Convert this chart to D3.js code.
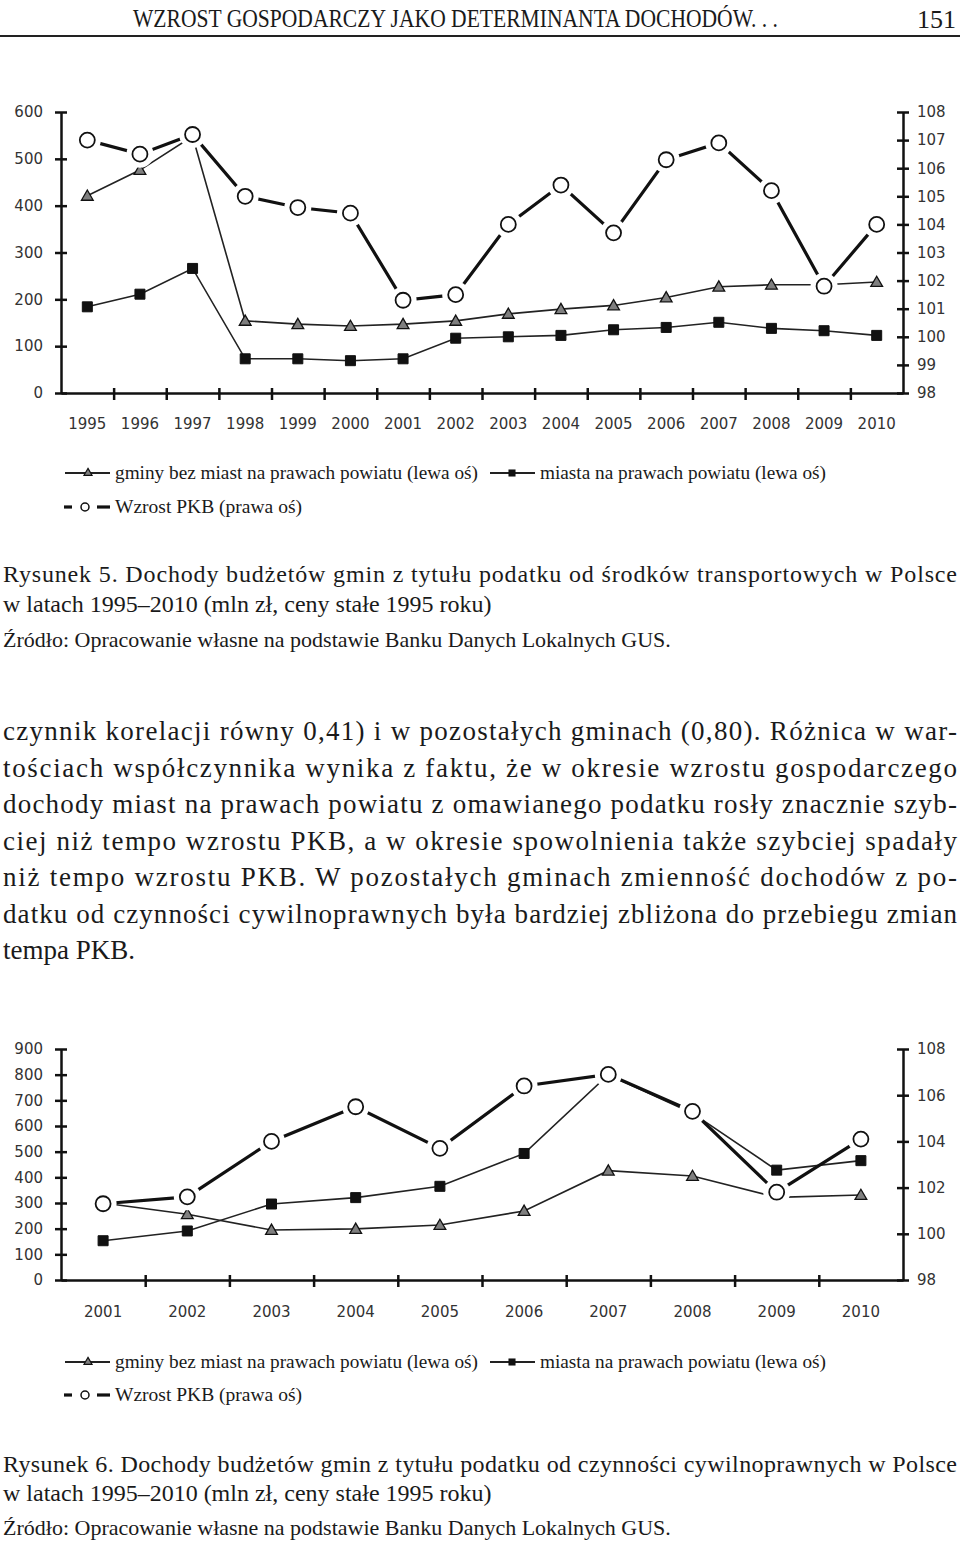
<!DOCTYPE html>
<html><head><meta charset="utf-8">
<script src="https://cdn.jsdelivr.net/npm/d3@7"></script>
<style>body{margin:0;background:#fff}svg{display:block}</style></head>
<body>
<script>
// ---------- DATA ----------
const years1 = ["1995","1996","1997","1998","1999","2000","2001","2002","2003","2004","2005","2006","2007","2008","2009","2010"];
const gminy1 = [421,476,548,154,147,143,147,154,169,179,187,204,227,231,231,237];
const miasta1 = [184,211,266,73,73,69,73,117,120,123,135,140,151,138,133,123];
const pkb1 = [107.0,106.5,107.2,105.0,104.6,104.4,101.3,101.5,104.0,105.4,103.7,106.3,106.9,105.2,101.8,104.0];
const leftTicks1 = [0,100,200,300,400,500,600];
const rightTicks1 = [98,99,100,101,102,103,104,105,106,107,108];

const years2 = ["2001","2002","2003","2004","2005","2006","2007","2008","2009","2010"];
const gminy2 = [300,256,195,199,214,269,426,405,322,331];
const miasta2 = [153,191,296,321,365,493,800,650,428,465];
const pkb2 = [101.3,101.6,104.0,105.5,103.7,106.4,106.9,105.3,101.8,104.1];
const leftTicks2 = [0,100,200,300,400,500,600,700,800,900];
const rightTicks2 = [98,100,102,104,106,108];

const legendLabels = ["gminy bez miast na prawach powiatu (lewa oś)","miasta na prawach powiatu (lewa oś)","Wzrost PKB (prawa oś)"];

const headerText = "WZROST GOSPODARCZY JAKO DETERMINANTA DOCHODÓW. . .";
const pageNumber = "151";
const caption1 = ["Rysunek 5. Dochody budżetów gmin z tytułu podatku od środków transportowych w Polsce","w latach 1995–2010 (mln zł, ceny stałe 1995 roku)"];
const caption2 = ["Rysunek 6. Dochody budżetów gmin z tytułu podatku od czynności cywilnoprawnych w Polsce","w latach 1995–2010 (mln zł, ceny stałe 1995 roku)"];
const sourceText = "Źródło: Opracowanie własne na podstawie Banku Danych Lokalnych GUS.";
const bodyLines = [
 "czynnik korelacji równy 0,41) i w pozostałych gminach (0,80). Różnica w war-",
 "tościach współczynnika wynika z faktu, że w okresie wzrostu gospodarczego",
 "dochody miast na prawach powiatu z omawianego podatku rosły znacznie szyb-",
 "ciej niż tempo wzrostu PKB, a w okresie spowolnienia także szybciej spadały",
 "niż tempo wzrostu PKB. W pozostałych gminach zmienność dochodów z po-",
 "datku od czynności cywilnoprawnych była bardziej zbliżona do przebiegu zmian",
 "tempa PKB."
];

// ---------- SVG ----------
const W = 960, H = 1541;
const svg = d3.select("body").append("svg").attr("width", W).attr("height", H)
  .style("background", "#fff");

const SERIF = "'Liberation Serif','Times New Roman',serif";
const SANS = "'DejaVu Sans',Verdana,sans-serif";

function txt(x, y, s, o = {}) {
  const t = svg.append("text").attr("x", x).attr("y", y).text(s)
    .attr("font-family", o.family || SERIF)
    .attr("font-size", o.size || 20)
    .attr("fill", o.fill || "#1a1a1a")
    .attr("text-anchor", o.anchor || "start");
  if (o.len) t.attr("textLength", o.len).attr("lengthAdjust", o.adjust || "spacing");
  return t;
}

// header
txt(133, 27, headerText, {size: 25, len: 645, adjust: "spacingAndGlyphs"});
txt(956, 28, pageNumber, {size: 26, anchor: "end"});
svg.append("line").attr("x1", 0).attr("x2", W).attr("y1", 36).attr("y2", 36)
  .attr("stroke", "#222").attr("stroke-width", 2);

// ---------- CHART ----------
function drawChart(c) {
  const g = svg.append("g");
  const n = c.years.length;
  const xb = d3.scaleBand().domain(c.years).range([c.x0, c.x1]);
  const cx = d => xb(d) + xb.bandwidth() / 2;
  const xi = d3.scaleLinear().domain([0, n]).range([c.x0, c.x1]);
  const yL = d3.scaleLinear().domain([0, c.leftMax]).range([c.yB, c.yT]);
  const yR = d3.scaleLinear().domain([98, 108]).range([c.yB, c.yT]);

  // left axis
  const la = g.append("g").attr("transform", `translate(${c.x0},0)`)
    .call(d3.axisLeft(yL).tickValues(c.leftTicks).tickSize(6).tickSizeOuter(0));
  la.select(".domain").attr("stroke", "#111").attr("stroke-width", 2.5);
  la.selectAll(".tick line").attr("x1", 6).attr("x2", -6).attr("stroke", "#111").attr("stroke-width", 2.5);
  la.selectAll(".tick text").attr("x", -18).attr("font-family", SANS).attr("font-size", 15).attr("fill", "#333");

  // right axis
  const ra = g.append("g").attr("transform", `translate(${c.x1},0)`)
    .call(d3.axisRight(yR).tickValues(c.rightTicks).tickSize(6).tickSizeOuter(0));
  ra.select(".domain").attr("stroke", "#111").attr("stroke-width", 2.5);
  ra.selectAll(".tick line").attr("x1", -6).attr("x2", 6).attr("stroke", "#111").attr("stroke-width", 2.5);
  ra.selectAll(".tick text").attr("x", 14).attr("font-family", SANS).attr("font-size", 15).attr("fill", "#333");

  // bottom axis ticks at band boundaries
  const ba = g.append("g").attr("transform", `translate(0,${c.yB})`)
    .call(d3.axisBottom(xi).tickValues(d3.range(1, n)).tickSize(7).tickSizeOuter(0).tickFormat(""));
  ba.select(".domain").attr("stroke", "#111").attr("stroke-width", 2.5);
  ba.selectAll(".tick line").attr("y1", -5).attr("y2", 7).attr("stroke", "#111").attr("stroke-width", 2.5);

  // category labels
  const lab = g.append("g").attr("transform", `translate(0,${c.labelY})`)
    .call(d3.axisBottom(xb).tickSize(0).tickPadding(0));
  lab.select(".domain").remove();
  lab.selectAll(".tick text").attr("font-family", SANS).attr("font-size", 15).attr("fill", "#333").attr("dy", "0");

  const lineL = d3.line().x((d, i) => cx(c.years[i])).y(d => yL(d));
  const lineR = d3.line().x((d, i) => cx(c.years[i])).y(d => yR(d));

  g.append("path").attr("d", lineL(c.gminy)).attr("fill", "none").attr("stroke", "#222").attr("stroke-width", 1.6);
  g.append("path").attr("d", lineL(c.miasta)).attr("fill", "none").attr("stroke", "#222").attr("stroke-width", 1.6);
  g.append("path").attr("d", lineR(c.pkb)).attr("fill", "none").attr("stroke", "#111").attr("stroke-width", 3.2);

  // triangles
  g.selectAll(null).data(c.gminy).enter().append("path")
    .attr("d", d3.symbol(d3.symbolTriangle, 60)())
    .attr("transform", (d, i) => `translate(${cx(c.years[i])},${yL(d) + 1})`)
    .attr("fill", "#7f7f7f").attr("stroke", "#111").attr("stroke-width", 1.3);
  // squares
  g.selectAll(null).data(c.miasta).enter().append("path")
    .attr("d", d3.symbol(d3.symbolSquare, 100)())
    .attr("transform", (d, i) => `translate(${cx(c.years[i])},${yL(d)})`)
    .attr("fill", "#111").attr("stroke", "#111").attr("stroke-width", 1);
  // halos around circles
  g.selectAll(null).data(c.pkb).enter().append("circle")
    .attr("cx", (d, i) => cx(c.years[i])).attr("cy", d => yR(d)).attr("r", 13.5)
    .attr("fill", "#fff");
  // circles
  g.selectAll(null).data(c.pkb).enter().append("circle")
    .attr("cx", (d, i) => cx(c.years[i])).attr("cy", d => yR(d)).attr("r", 7.5)
    .attr("fill", "#fff").attr("stroke", "#111").attr("stroke-width", 1.8);

  // legend
  const L = svg.append("g");
  const r1 = c.legY1, r2 = c.legY2;
  L.append("line").attr("x1", 65).attr("x2", 110).attr("y1", r1).attr("y2", r1).attr("stroke", "#222").attr("stroke-width", 1.8);
  L.append("path").attr("d", d3.symbol(d3.symbolTriangle, 28)()).attr("transform", `translate(88,${r1})`)
    .attr("fill", "#7f7f7f").attr("stroke", "#111").attr("stroke-width", 1.2);
  txt(115, r1 + 6, legendLabels[0], {size: 19, len: 363, adjust: "spacingAndGlyphs", fill: "#1a1a1a"});
  L.append("line").attr("x1", 490).attr("x2", 535).attr("y1", r1).attr("y2", r1).attr("stroke", "#222").attr("stroke-width", 1.8);
  L.append("path").attr("d", d3.symbol(d3.symbolSquare, 50)()).attr("transform", `translate(512,${r1})`).attr("fill", "#111");
  txt(540, r1 + 6, legendLabels[1], {size: 19, len: 286, adjust: "spacingAndGlyphs", fill: "#1a1a1a"});
  L.append("line").attr("x1", 64).attr("x2", 72).attr("y1", r2).attr("y2", r2).attr("stroke", "#111").attr("stroke-width", 3.2);
  L.append("line").attr("x1", 97).attr("x2", 110).attr("y1", r2).attr("y2", r2).attr("stroke", "#111").attr("stroke-width", 3.2);
  L.append("circle").attr("cx", 85).attr("cy", r2).attr("r", 4).attr("fill", "#fff").attr("stroke", "#111").attr("stroke-width", 1.5);
  txt(115, r2 + 6, legendLabels[2], {size: 19, len: 187, adjust: "spacingAndGlyphs", fill: "#1a1a1a"});
}

drawChart({years: years1, gminy: gminy1, miasta: miasta1, pkb: pkb1,
  leftTicks: leftTicks1, rightTicks: rightTicks1, leftMax: 600,
  x0: 61, x1: 903, yT: 112, yB: 393, labelY: 429, legY1: 473, legY2: 507});

drawChart({years: years2, gminy: gminy2, miasta: miasta2, pkb: pkb2,
  leftTicks: leftTicks2, rightTicks: rightTicks2, leftMax: 900,
  x0: 61, x1: 903, yT: 1049, yB: 1280, labelY: 1317, legY1: 1362, legY2: 1395});

// captions
txt(3, 582, caption1[0], {size: 24, len: 954});
txt(3, 612, caption1[1], {size: 24});
txt(3, 647, sourceText, {size: 22});

// body
bodyLines.forEach((s, i) => {
  const last = i === bodyLines.length - 1;
  txt(3, 740 + i * 36.5, s, last ? {size: 27} : {size: 27, len: 954});
});

txt(3, 1472, caption2[0], {size: 24, len: 954});
txt(3, 1501, caption2[1], {size: 24});
txt(3, 1535, sourceText, {size: 22});
</script>
</body></html>
